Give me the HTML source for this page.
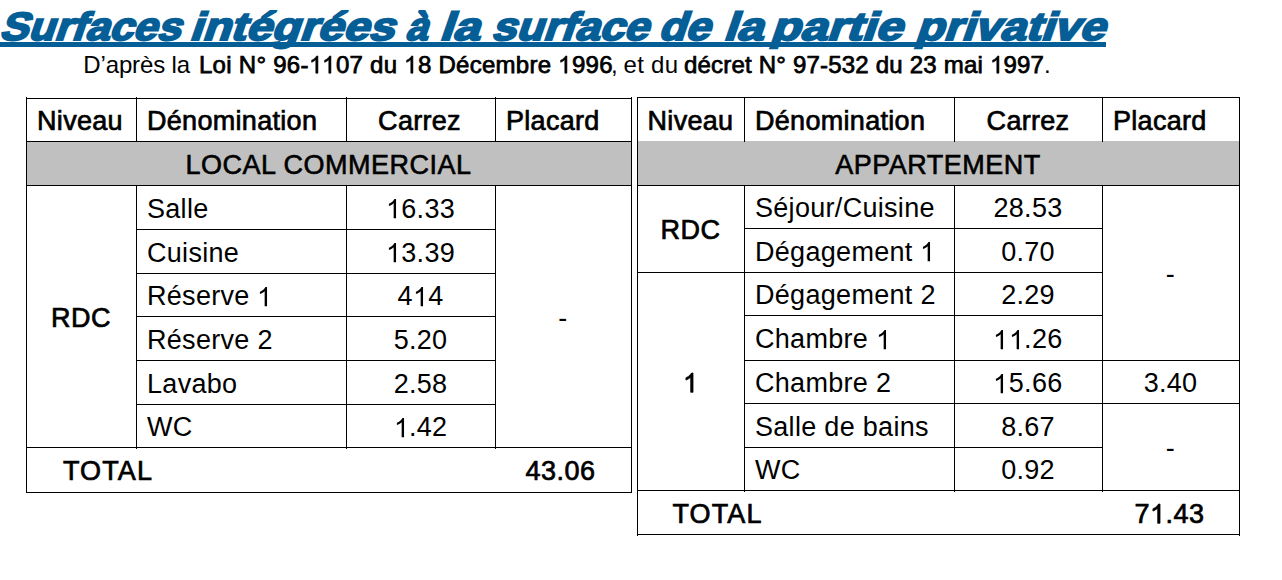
<!DOCTYPE html>
<html><head><meta charset="utf-8"><style>
html,body{margin:0;padding:0;background:#fff;}
body{width:1282px;height:580px;position:relative;overflow:hidden;font-family:"Liberation Sans",sans-serif;color:#000;}
.ln{position:absolute;background:#000;}
.one{width:0.556em;height:0.716em;vertical-align:-0.04em;fill:#000;overflow:visible;}
.g{position:absolute;background:#c0c0c0;}
.c{position:absolute;display:flex;align-items:center;font-size:27px;white-space:nowrap;line-height:1;}
.c span{display:block;position:relative;top:2px;letter-spacing:0.3px;}
.al{justify-content:flex-start;padding-left:11px;box-sizing:border-box;}
.ac{justify-content:center;}
.b span,.h span{-webkit-text-stroke:0.7px #000;letter-spacing:0.45px;}
.h span{letter-spacing:0.3px;}
.sp span{letter-spacing:0.5px;-webkit-text-stroke:0.6px #000;}
.tot{padding-left:38px;}
.tot span{letter-spacing:1.1px;}
.tw{position:absolute;top:7px;font-size:39.5px;font-weight:bold;color:#065e97;-webkit-text-stroke:2.0px #065e97;white-space:nowrap;line-height:1;transform-origin:0 0;}
.uline{position:absolute;left:0;top:42px;width:1106px;height:5px;background:#065e97;}
.sub{position:absolute;top:52.7px;white-space:nowrap;line-height:1;}
</style></head><body>

<div class="g" style="left:26px;top:141px;width:605px;height:44px"></div>
<div class="g" style="left:637px;top:141px;width:602px;height:44px"></div>
<div class="ln" style="left:26px;top:98px;width:606px;height:1px"></div>
<div class="ln" style="left:26px;top:141px;width:606px;height:1px"></div>
<div class="ln" style="left:26px;top:185px;width:606px;height:1px"></div>
<div class="ln" style="left:26px;top:447px;width:606px;height:1px"></div>
<div class="ln" style="left:26px;top:492px;width:606px;height:1px"></div>
<div class="ln" style="left:26px;top:97px;width:1px;height:396px"></div>
<div class="ln" style="left:631px;top:97px;width:1px;height:396px"></div>
<div class="ln" style="left:136px;top:97px;width:1px;height:45px"></div>
<div class="ln" style="left:346px;top:97px;width:1px;height:45px"></div>
<div class="ln" style="left:495px;top:97px;width:1px;height:45px"></div>
<div class="ln" style="left:136px;top:185px;width:1px;height:264px"></div>
<div class="ln" style="left:346px;top:185px;width:1px;height:264px"></div>
<div class="ln" style="left:495px;top:185px;width:1px;height:264px"></div>
<div class="ln" style="left:136px;top:229px;width:360px;height:1px"></div>
<div class="ln" style="left:136px;top:273px;width:360px;height:1px"></div>
<div class="ln" style="left:136px;top:316px;width:360px;height:1px"></div>
<div class="ln" style="left:136px;top:360px;width:360px;height:1px"></div>
<div class="ln" style="left:136px;top:404px;width:360px;height:1px"></div>
<div class="ln" style="left:637px;top:97px;width:603px;height:1px"></div>
<div class="ln" style="left:637px;top:185px;width:603px;height:1px"></div>
<div class="ln" style="left:637px;top:490px;width:603px;height:1px"></div>
<div class="ln" style="left:637px;top:534px;width:603px;height:1px"></div>
<div class="ln" style="left:637px;top:97px;width:1px;height:439px"></div>
<div class="ln" style="left:1239px;top:97px;width:1px;height:439px"></div>
<div class="ln" style="left:744px;top:97px;width:1px;height:45px"></div>
<div class="ln" style="left:954px;top:97px;width:1px;height:45px"></div>
<div class="ln" style="left:1102px;top:97px;width:1px;height:45px"></div>
<div class="ln" style="left:744px;top:185px;width:1px;height:307px"></div>
<div class="ln" style="left:954px;top:185px;width:1px;height:307px"></div>
<div class="ln" style="left:1102px;top:185px;width:1px;height:307px"></div>
<div class="ln" style="left:744px;top:228px;width:359px;height:1px"></div>
<div class="ln" style="left:637px;top:272px;width:466px;height:1px"></div>
<div class="ln" style="left:744px;top:315px;width:359px;height:1px"></div>
<div class="ln" style="left:744px;top:360px;width:496px;height:1px"></div>
<div class="ln" style="left:744px;top:403px;width:496px;height:1px"></div>
<div class="ln" style="left:744px;top:447px;width:359px;height:1px"></div>
<div class="c ac h" style="left:25px;top:98px;width:110px;height:43px"><span>Niveau</span></div>
<div class="c al h" style="left:136px;top:98px;width:210px;height:43px"><span>Dénomination</span></div>
<div class="c ac h" style="left:345px;top:98px;width:149px;height:43px"><span>Carrez</span></div>
<div class="c al h" style="left:495px;top:98px;width:136px;height:43px"><span>Placard</span></div>
<div class="c ac sp" style="left:26px;top:141px;width:605px;height:44px"><span>LOCAL COMMERCIAL</span></div>
<div class="c ac b" style="left:26px;top:185px;width:110px;height:262px"><span>RDC</span></div>
<div class="c al " style="left:136px;top:185px;width:210px;height:44px"><span>Salle</span></div>
<div class="c ac " style="left:346px;top:185px;width:149px;height:44px"><span><svg class="one" viewBox="0 0 556 716" style="margin-right:0.300px"><path transform="matrix(1 0 0 -1 0 716)" d="M372 0L284 0L284 560C252 530 210 500 160 474C135 462 120 457 108 454L108 539C170 567 225 605 262 645C290 675 305 700 316 716L372 716Z"/></svg>6.33</span></div>
<div class="c al " style="left:136px;top:229px;width:210px;height:44px"><span>Cuisine</span></div>
<div class="c ac " style="left:346px;top:229px;width:149px;height:44px"><span><svg class="one" viewBox="0 0 556 716" style="margin-right:0.300px"><path transform="matrix(1 0 0 -1 0 716)" d="M372 0L284 0L284 560C252 530 210 500 160 474C135 462 120 457 108 454L108 539C170 567 225 605 262 645C290 675 305 700 316 716L372 716Z"/></svg>3.39</span></div>
<div class="c al " style="left:136px;top:273px;width:210px;height:43px"><span>Réserve <svg class="one" viewBox="0 0 556 716" style="margin-right:0.300px"><path transform="matrix(1 0 0 -1 0 716)" d="M372 0L284 0L284 560C252 530 210 500 160 474C135 462 120 457 108 454L108 539C170 567 225 605 262 645C290 675 305 700 316 716L372 716Z"/></svg></span></div>
<div class="c ac " style="left:346px;top:273px;width:149px;height:43px"><span>4<svg class="one" viewBox="0 0 556 716" style="margin-right:0.300px"><path transform="matrix(1 0 0 -1 0 716)" d="M372 0L284 0L284 560C252 530 210 500 160 474C135 462 120 457 108 454L108 539C170 567 225 605 262 645C290 675 305 700 316 716L372 716Z"/></svg>4</span></div>
<div class="c al " style="left:136px;top:316px;width:210px;height:44px"><span>Réserve 2</span></div>
<div class="c ac " style="left:346px;top:316px;width:149px;height:44px"><span>5.20</span></div>
<div class="c al " style="left:136px;top:360px;width:210px;height:44px"><span>Lavabo</span></div>
<div class="c ac " style="left:346px;top:360px;width:149px;height:44px"><span>2.58</span></div>
<div class="c al " style="left:136px;top:404px;width:210px;height:43px"><span>WC</span></div>
<div class="c ac " style="left:346px;top:404px;width:149px;height:43px"><span><svg class="one" viewBox="0 0 556 716" style="margin-right:0.300px"><path transform="matrix(1 0 0 -1 0 716)" d="M372 0L284 0L284 560C252 530 210 500 160 474C135 462 120 457 108 454L108 539C170 567 225 605 262 645C290 675 305 700 316 716L372 716Z"/></svg>.42</span></div>
<div class="c ac " style="left:495px;top:185px;width:136px;height:262px"><span>-</span></div>
<div class="c al b tot" style="left:25px;top:447px;width:320px;height:45px"><span>TOTAL</span></div>
<div class="c ac b" style="left:492.5px;top:447px;width:136px;height:45px"><span>43.06</span></div>
<div class="c ac h" style="left:637px;top:97px;width:107px;height:44px"><span>Niveau</span></div>
<div class="c al h" style="left:744px;top:97px;width:210px;height:44px"><span>Dénomination</span></div>
<div class="c ac h" style="left:954px;top:97px;width:148px;height:44px"><span>Carrez</span></div>
<div class="c al h" style="left:1102px;top:97px;width:137px;height:44px"><span>Placard</span></div>
<div class="c ac sp" style="left:637px;top:141px;width:602px;height:44px"><span>APPARTEMENT</span></div>
<div class="c ac b" style="left:637px;top:185px;width:107px;height:87px"><span>RDC</span></div>
<div class="c ac b" style="left:637px;top:272px;width:107px;height:218px"><span><svg class="one" viewBox="0 0 556 716" style="margin-right:0.450px"><path transform="matrix(1 0 0 -1 0 716)" d="M372 0L284 0L284 560C252 530 210 500 160 474C135 462 120 457 108 454L108 539C170 567 225 605 262 645C290 675 305 700 316 716L372 716Z" stroke="#000" stroke-width="26" stroke-linejoin="round"/></svg></span></div>
<div class="c al " style="left:744px;top:185px;width:210px;height:43px"><span>Séjour/Cuisine</span></div>
<div class="c ac " style="left:954px;top:185px;width:148px;height:43px"><span>28.53</span></div>
<div class="c al " style="left:744px;top:228px;width:210px;height:44px"><span>Dégagement <svg class="one" viewBox="0 0 556 716" style="margin-right:0.300px"><path transform="matrix(1 0 0 -1 0 716)" d="M372 0L284 0L284 560C252 530 210 500 160 474C135 462 120 457 108 454L108 539C170 567 225 605 262 645C290 675 305 700 316 716L372 716Z"/></svg></span></div>
<div class="c ac " style="left:954px;top:228px;width:148px;height:44px"><span>0.70</span></div>
<div class="c al " style="left:744px;top:272px;width:210px;height:43px"><span>Dégagement 2</span></div>
<div class="c ac " style="left:954px;top:272px;width:148px;height:43px"><span>2.29</span></div>
<div class="c al " style="left:744px;top:315px;width:210px;height:45px"><span>Chambre <svg class="one" viewBox="0 0 556 716" style="margin-right:0.300px"><path transform="matrix(1 0 0 -1 0 716)" d="M372 0L284 0L284 560C252 530 210 500 160 474C135 462 120 457 108 454L108 539C170 567 225 605 262 645C290 675 305 700 316 716L372 716Z"/></svg></span></div>
<div class="c ac " style="left:954px;top:315px;width:148px;height:45px"><span><svg class="one" viewBox="0 0 556 716" style="margin-right:0.300px"><path transform="matrix(1 0 0 -1 0 716)" d="M372 0L284 0L284 560C252 530 210 500 160 474C135 462 120 457 108 454L108 539C170 567 225 605 262 645C290 675 305 700 316 716L372 716Z"/></svg><svg class="one" viewBox="0 0 556 716" style="margin-right:0.300px"><path transform="matrix(1 0 0 -1 0 716)" d="M372 0L284 0L284 560C252 530 210 500 160 474C135 462 120 457 108 454L108 539C170 567 225 605 262 645C290 675 305 700 316 716L372 716Z"/></svg>.26</span></div>
<div class="c al " style="left:744px;top:360px;width:210px;height:43px"><span>Chambre 2</span></div>
<div class="c ac " style="left:954px;top:360px;width:148px;height:43px"><span><svg class="one" viewBox="0 0 556 716" style="margin-right:0.300px"><path transform="matrix(1 0 0 -1 0 716)" d="M372 0L284 0L284 560C252 530 210 500 160 474C135 462 120 457 108 454L108 539C170 567 225 605 262 645C290 675 305 700 316 716L372 716Z"/></svg>5.66</span></div>
<div class="c al " style="left:744px;top:403px;width:210px;height:44px"><span>Salle de bains</span></div>
<div class="c ac " style="left:954px;top:403px;width:148px;height:44px"><span>8.67</span></div>
<div class="c al " style="left:744px;top:447px;width:210px;height:43px"><span>WC</span></div>
<div class="c ac " style="left:954px;top:447px;width:148px;height:43px"><span>0.92</span></div>
<div class="c ac " style="left:1102px;top:185px;width:137px;height:175px"><span>-</span></div>
<div class="c ac " style="left:1102px;top:360px;width:137px;height:43px"><span>3.40</span></div>
<div class="c ac " style="left:1102px;top:403px;width:137px;height:87px"><span>-</span></div>
<div class="c al b tot" style="left:634.5px;top:490px;width:317px;height:44px"><span>TOTAL</span></div>
<div class="c ac b" style="left:1101px;top:490px;width:137px;height:44px"><span>7<svg class="one" viewBox="0 0 556 716" style="margin-right:0.450px"><path transform="matrix(1 0 0 -1 0 716)" d="M372 0L284 0L284 560C252 530 210 500 160 474C135 462 120 457 108 454L108 539C170 567 225 605 262 645C290 675 305 700 316 716L372 716Z" stroke="#000" stroke-width="26" stroke-linejoin="round"/></svg>.43</span></div>
<div class="tw" style="left:9.50px;transform:skewX(-19.0deg) scaleX(1.0853)">Surfaces</div>
<div class="tw" style="left:200.30px;transform:skewX(-19.0deg) scaleX(1.1659)">intégrées</div>
<div class="tw" style="left:416.10px;transform:skewX(-19.0deg) scaleX(1.0000)">à</div>
<div class="tw" style="left:450.40px;transform:skewX(-19.0deg) scaleX(1.2144)">la</div>
<div class="tw" style="left:501.50px;transform:skewX(-19.0deg) scaleX(1.1174)">surface</div>
<div class="tw" style="left:668.90px;transform:skewX(-19.0deg) scaleX(1.1166)">de</div>
<div class="tw" style="left:733.50px;transform:skewX(-19.0deg) scaleX(1.2037)">la</div>
<div class="tw" style="left:781.20px;transform:skewX(-19.0deg) scaleX(1.2242)">partie</div>
<div class="tw" style="left:926.00px;transform:skewX(-19.0deg) scaleX(1.1657)">privative</div>
<div class="uline"></div>
<div class="sub" style="left:83.30px;letter-spacing:-0.144px;font-size:24px">D’après la</div>
<div class="sub" style="left:199.00px;letter-spacing:0.273px;font-size:24px;-webkit-text-stroke:0.75px #000">Loi N° 96-<svg class="one" viewBox="0 0 556 716" style="margin-right:0.273px"><path transform="matrix(1 0 0 -1 0 716)" d="M372 0L284 0L284 560C252 530 210 500 160 474C135 462 120 457 108 454L108 539C170 567 225 605 262 645C290 675 305 700 316 716L372 716Z" stroke="#000" stroke-width="25" stroke-linejoin="round"/></svg><svg class="one" viewBox="0 0 556 716" style="margin-right:0.273px"><path transform="matrix(1 0 0 -1 0 716)" d="M372 0L284 0L284 560C252 530 210 500 160 474C135 462 120 457 108 454L108 539C170 567 225 605 262 645C290 675 305 700 316 716L372 716Z" stroke="#000" stroke-width="25" stroke-linejoin="round"/></svg>07 du <svg class="one" viewBox="0 0 556 716" style="margin-right:0.273px"><path transform="matrix(1 0 0 -1 0 716)" d="M372 0L284 0L284 560C252 530 210 500 160 474C135 462 120 457 108 454L108 539C170 567 225 605 262 645C290 675 305 700 316 716L372 716Z" stroke="#000" stroke-width="25" stroke-linejoin="round"/></svg>8 Décembre <svg class="one" viewBox="0 0 556 716" style="margin-right:0.273px"><path transform="matrix(1 0 0 -1 0 716)" d="M372 0L284 0L284 560C252 530 210 500 160 474C135 462 120 457 108 454L108 539C170 567 225 605 262 645C290 675 305 700 316 716L372 716Z" stroke="#000" stroke-width="25" stroke-linejoin="round"/></svg>996</div>
<div class="sub" style="left:611.00px;letter-spacing:0.000px;font-size:24px">,</div>
<div class="sub" style="left:623.50px;letter-spacing:0.312px;font-size:24px">et du</div>
<div class="sub" style="left:684.00px;letter-spacing:0.200px;font-size:24px;-webkit-text-stroke:0.75px #000">décret N° 97-532 du 23 mai <svg class="one" viewBox="0 0 556 716" style="margin-right:0.200px"><path transform="matrix(1 0 0 -1 0 716)" d="M372 0L284 0L284 560C252 530 210 500 160 474C135 462 120 457 108 454L108 539C170 567 225 605 262 645C290 675 305 700 316 716L372 716Z" stroke="#000" stroke-width="25" stroke-linejoin="round"/></svg>997</div>
<div class="sub" style="left:1044.00px;letter-spacing:0.000px;font-size:24px">.</div>
</body></html>
